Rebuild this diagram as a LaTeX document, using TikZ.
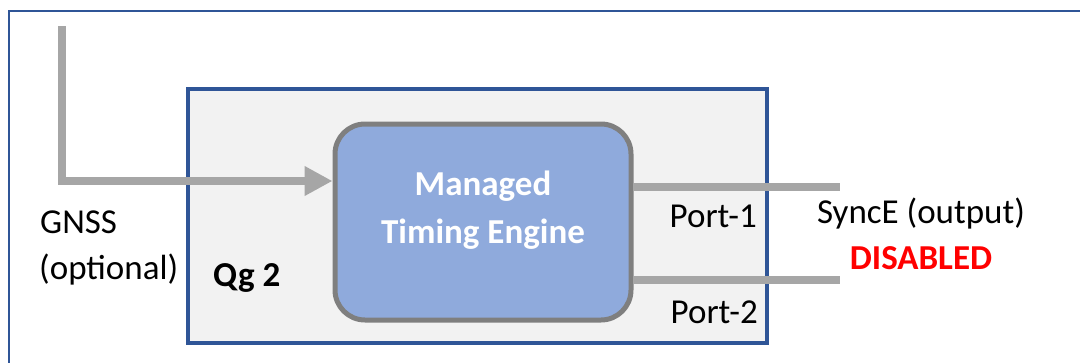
\documentclass[tikz,border=0pt]{standalone}
\usepackage{fontspec}
\setmainfont{Carlito}
\usetikzlibrary{arrows.meta}
\definecolor{frameblue}{HTML}{2F5597}
\definecolor{boxfill}{HTML}{F2F2F2}
\definecolor{engfill}{HTML}{8FAADC}
\definecolor{enggray}{HTML}{7F7F7F}
\definecolor{linegray}{HTML}{A6A6A6}
\definecolor{disred}{HTML}{FF0000}
\tikzset{
  lbl/.style={font=\fontsize{35}{41}\selectfont, inner sep=0pt},
  blbl/.style={font=\fontsize{35}{41}\selectfont\bfseries, inner sep=0pt},
  wire/.style={draw=linegray, line width=8pt},
}
\begin{document}
\begin{tikzpicture}[x=1pt,y=-1pt]
\useasboundingbox (0,0) rectangle (1080,362);
% outer frame (top and left edges)
\draw[frameblue, line width=2pt] (9,363) -- (9,11) -- (1081,11);
% Qg 2 box
\node[draw=frameblue, fill=boxfill, line width=4pt, minimum width=578.5pt, minimum height=254.5pt, inner sep=0pt] (qg) at (477.25,215.75) {};
% engine
\node[draw=enggray, fill=engfill, line width=5pt, rounded corners=30pt, minimum width=296pt, minimum height=196pt, inner sep=0pt] (eng) at (483,222) {};
\node[blbl, text=white, anchor=base] (t1) at (483,195) {Managed};
\node[blbl, text=white, anchor=base] (t2) at (483,243) {Timing Engine};
% GNSS input
\coordinate (gtop) at (62,26);
\coordinate (gcorner) at (62,181);
\draw[wire, -{Triangle[length=28pt,width=28pt]}] (gtop) -- (gcorner) -- (eng.west |- gcorner);
% outputs
\coordinate (p1end) at (840,187);
\coordinate (p2end) at (840,280);
\draw[wire] (eng.east |- p1end) -- (p1end);
\draw[wire] (eng.east |- p2end) -- (p2end);
% labels
\node[lbl, anchor=base west] (gnss) at (40,233) {GNSS};
\node[lbl, anchor=base west] (opt) at (39,279) {(optional)};
\node[blbl, anchor=base west] (qgl) at (213,286) {Qg 2};
\node[lbl, anchor=base east] (port1) at (757,227) {Port-1};
\node[lbl, anchor=base east] (port2) at (758,323) {Port-2};
\node[lbl, anchor=base] (synce) at (921,223) {SyncE (output)};
\node[blbl, text=disred, anchor=base] (dis) at (921,269) {DISABLED};
\end{tikzpicture}
\end{document}
